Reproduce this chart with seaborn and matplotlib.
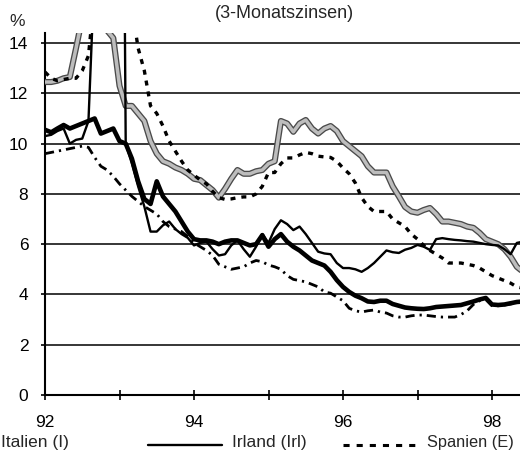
import numpy as np
import pandas as pd
import matplotlib
matplotlib.use("Agg")
import matplotlib.pyplot as plt
import matplotlib.patheffects as pe
from matplotlib.lines import Line2D
import seaborn as sns

# ---- data (monthly 3-month rates, Jan 1992 .. Jun 1998) ----
months = np.arange(78)
years = 92 + months / 12.0

italien = [12.45, 12.45, 12.5, 12.6, 12.65, 13.8, 15.0, 16.0, 17.0, 16.0,
           14.5, 14.2, 12.3, 11.5, 11.5, 11.2, 10.9, 10.1, 9.6, 9.3,
           9.2, 9.05, 8.95, 8.8, 8.6, 8.55, 8.35, 8.15, 7.85, 8.2,
           8.6, 8.95, 8.8, 8.8, 8.9, 8.95, 9.2, 9.3, 10.9, 10.8,
           10.47, 10.8, 10.94, 10.6, 10.4, 10.6, 10.7, 10.5, 10.1, 9.9,
           9.7, 9.5, 9.1, 8.85, 8.85, 8.85, 8.3, 7.9, 7.48, 7.3,
           7.25, 7.36, 7.44, 7.2, 6.9, 6.9, 6.85, 6.8, 6.7, 6.65,
           6.45, 6.2, 6.1, 6.0, 5.8, 5.5, 5.1, 4.9]

irland = [10.3, 10.35, 10.5, 10.6, 10.0, 10.15, 10.2, 10.9, 17.0, 15.0,
          15.0, 16.0, 45.0, 10.0, 9.2, 8.3, 7.5, 6.5, 6.5, 6.75,
          6.9, 6.6, 6.4, 6.25, 5.95, 6.05, 6.1, 5.8, 5.55, 5.6,
          5.95, 6.15, 5.8, 5.5, 5.9, 6.4, 6.05, 6.6, 6.95, 6.8,
          6.56, 6.7, 6.4, 6.05, 5.7, 5.63, 5.6, 5.25, 5.05, 5.05,
          5.0, 4.9, 5.05, 5.25, 5.5, 5.75, 5.68, 5.65, 5.78, 5.85,
          5.97, 5.9, 5.77, 6.2, 6.24, 6.2, 6.17, 6.15, 6.12, 6.1,
          6.05, 6.0, 5.97, 5.95, 5.8, 5.6, 6.05, 6.1]

spanien = [12.85, 12.6, 12.5, 12.55, 12.6, 12.6, 12.9, 13.5, 16.0, 15.5,
           15.0, 15.0, 15.0, 14.8, 15.4, 13.8, 12.9, 11.5, 11.2, 10.7,
           10.1, 9.7, 9.3, 8.95, 8.75, 8.55, 8.4, 8.1, 7.85, 7.78,
           7.8, 7.85, 7.88, 7.88, 8.0, 8.3, 8.85, 8.85, 9.2, 9.43,
           9.43, 9.55, 9.65, 9.6, 9.5, 9.47, 9.45, 9.3, 9.03, 8.8,
           8.43, 7.85, 7.5, 7.3, 7.3, 7.3, 7.0, 6.85, 6.7, 6.4,
           6.2, 5.95, 5.75, 5.6, 5.45, 5.25, 5.25, 5.25, 5.2, 5.15,
           5.05, 4.9, 4.75, 4.65, 4.55, 4.45, 4.3, 4.25]

frankreich = [10.55, 10.45, 10.6, 10.74, 10.6, 10.7, 10.8, 10.9, 11.0, 10.4,
              10.5, 10.6, 10.1, 10.0, 9.4, 8.5, 7.8, 7.6, 8.5, 7.9,
              7.6, 7.3, 6.9, 6.5, 6.2, 6.15, 6.15, 6.1, 6.0, 6.1,
              6.15, 6.15, 6.05, 5.95, 6.0, 6.36, 5.9, 6.2, 6.4, 6.1,
              5.9, 5.75, 5.55, 5.35, 5.25, 5.15, 4.9, 4.57, 4.3, 4.1,
              3.95, 3.85, 3.72, 3.7, 3.75, 3.75, 3.62, 3.55, 3.48, 3.45,
              3.43, 3.42, 3.45, 3.5, 3.52, 3.54, 3.56, 3.58, 3.65, 3.72,
              3.8, 3.86, 3.6, 3.58, 3.6, 3.65, 3.7, 3.72]

deutschland = [9.6, 9.65, 9.7, 9.75, 9.8, 9.85, 9.9, 9.85, 9.45, 9.1,
               8.95, 8.7, 8.4, 8.15, 7.9, 7.7, 7.5, 7.35, 7.2, 6.9,
               6.7, 6.6, 6.5, 6.3, 6.05, 5.9, 5.75, 5.55, 5.2, 5.1,
               5.0, 5.05, 5.1, 5.25, 5.35, 5.3, 5.17, 5.1, 5.0, 4.75,
               4.6, 4.55, 4.5, 4.4, 4.3, 4.1, 4.05, 3.9, 3.75, 3.45,
               3.35, 3.3, 3.35, 3.38, 3.3, 3.26, 3.15, 3.1, 3.1, 3.15,
               3.18, 3.18, 3.15, 3.12, 3.1, 3.1, 3.1, 3.2, 3.35, 3.6,
               3.75, 3.8, 3.55, 3.55, 3.58, 3.62, 3.67, 3.7]

y_ticks = [0, 2, 4, 6, 8, 10, 12, 14]
x_ticks = [92, 93, 94, 95, 96, 97, 98]
x_labels = ["92", "", "94", "", "96", "", "98"]

# ---- figure ----
sns.set_style("white")
plt.rcParams["font.family"] = ["Liberation Sans", "DejaVu Sans"]

W, H = 520, 459
fig = plt.figure(figsize=(W / 100, H / 100), dpi=100)
ax = fig.add_axes([45 / W, (H - 395) / H, 475 / W, (395 - 33) / H])

def frame(vals):
    return pd.DataFrame({"Jahr": years, "Zins": vals})

# Italien: grey hatched band
sns.lineplot(data=frame(italien), x="Jahr", y="Zins", ax=ax, color="#bdbdbd",
             lw=2.5, zorder=3,
             path_effects=[pe.Stroke(linewidth=4.4, foreground="#4a4a4a"), pe.Normal()])
# Deutschland: dash-dot
sns.lineplot(data=frame(deutschland), x="Jahr", y="Zins", ax=ax, color="black",
             lw=2.0, zorder=4, linestyle=(0, (3.3, 1.8, 0.8, 1.8)))
# Spanien: dashed
sns.lineplot(data=frame(spanien), x="Jahr", y="Zins", ax=ax, color="black",
             lw=2.4, zorder=4, linestyle=(0, (1.5, 1.8)))
# Frankreich: thick black
sns.lineplot(data=frame(frankreich), x="Jahr", y="Zins", ax=ax, color="black",
             lw=3.3, zorder=5)
# Irland: thin black
sns.lineplot(data=frame(irland), x="Jahr", y="Zins", ax=ax, color="black",
             lw=1.7, zorder=6)

ax.set_xlim(92, 92 + 475 / 74.5)
ax.set_ylim(0, 14.4)
ax.set_yticks(y_ticks)
ax.set_xticks(x_ticks)
ax.set_xticklabels(x_labels)
ax.set_xlabel("")
ax.set_ylabel("")
ax.grid(axis="y", color="black", lw=1.1)
ax.grid(axis="x", visible=False)
ax.set_axisbelow(True)
for s in ["top", "right"]:
    ax.spines[s].set_visible(False)
for s in ["left", "bottom"]:
    ax.spines[s].set_color("black")
    ax.spines[s].set_linewidth(1.5)
ax.tick_params(axis="y", direction="out", length=3, width=1.2, pad=9,
               labelsize=12.5, colors="black", left=True)
ax.tick_params(axis="x", direction="inout", length=7, width=1.2, pad=11,
               labelsize=12.5, colors="black", bottom=True)

# texts
fig.text(17 / W, 1 - 22 / H, "%", ha="center", va="center", fontsize=12.5)
fig.text(284 / W, 1 - 14 / H, "(3-Monatszinsen)", ha="center", va="center", fontsize=13)

# legend (manual, bottom row)
ly = 1 - 442 / H
fig.text(1 / W, ly, "Italien (I)", ha="left", va="center", fontsize=12.5)
fig.add_artist(Line2D([148 / W, 222 / W], [1 - 445 / H] * 2, transform=fig.transFigure,
                      color="black", lw=1.7))
fig.text(232 / W, ly, "Irland (Irl)", ha="left", va="center", fontsize=12.5)
fig.add_artist(Line2D([343 / W, 421 / W], [1 - 445 / H] * 2, transform=fig.transFigure,
                      color="black", lw=2.2, linestyle=(0, (2.0, 2.3))))
fig.text(427 / W, ly, "Spanien (E)", ha="left", va="center", fontsize=11.8)

fig.savefig("out.png", dpi=100)
